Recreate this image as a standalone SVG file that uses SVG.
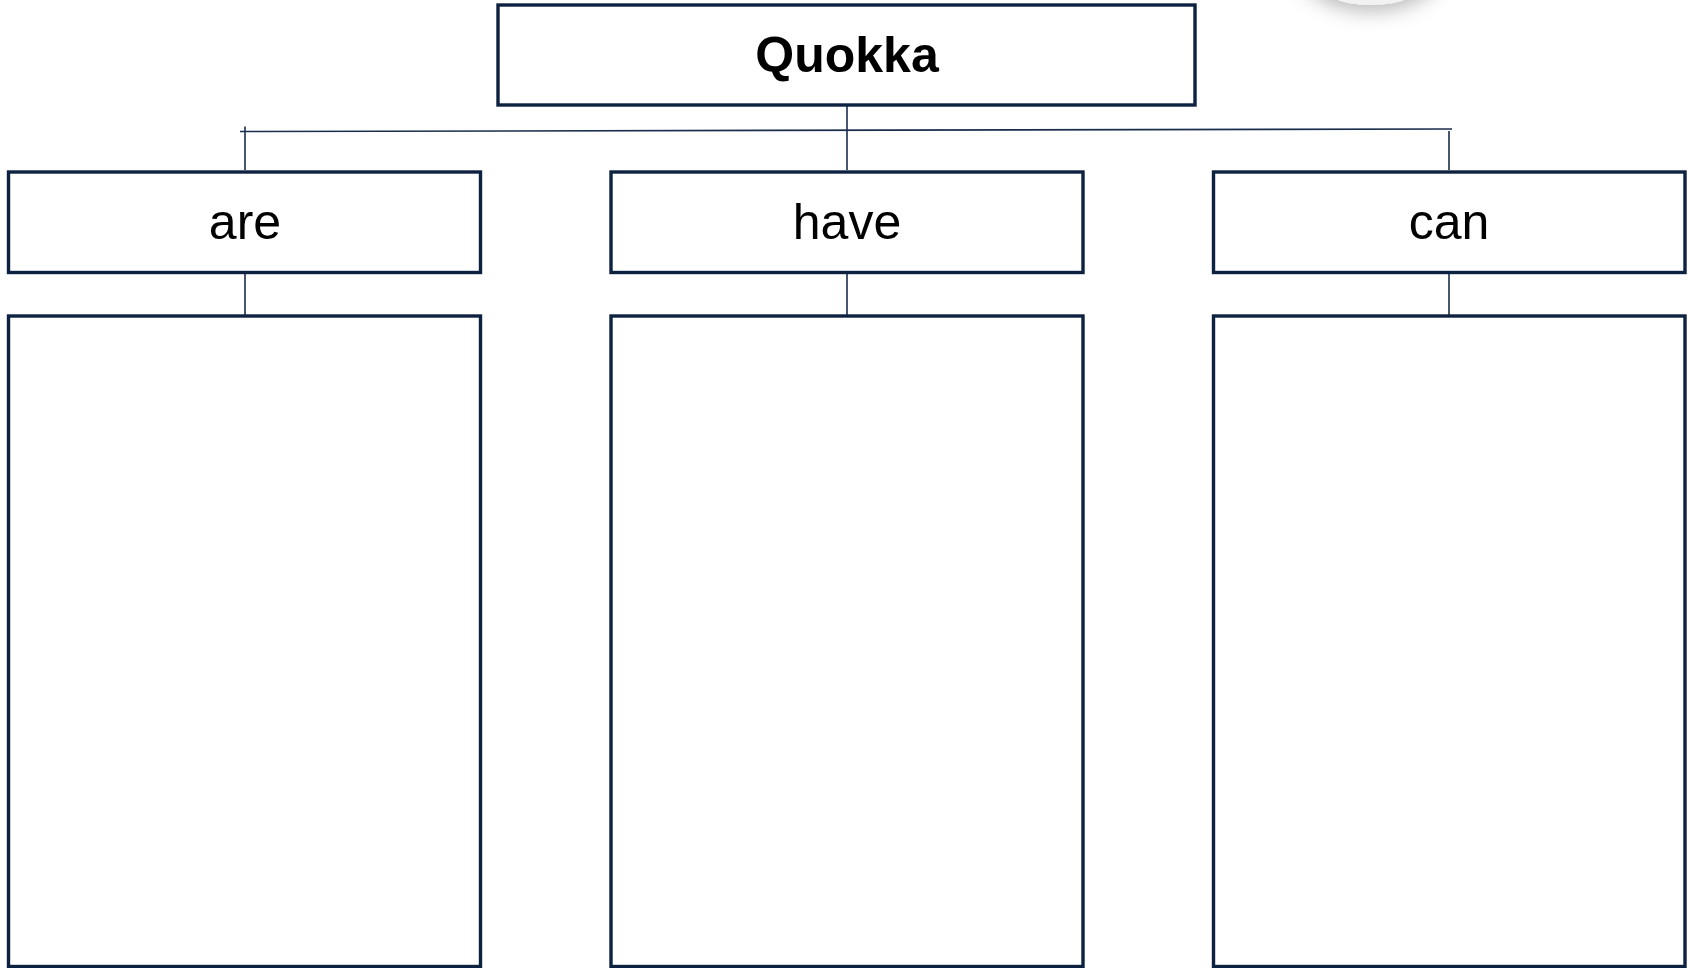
<svg xmlns="http://www.w3.org/2000/svg" width="1690" height="968" viewBox="0 0 1690 968">
  <style>
    .box { fill: #ffffff; stroke: #0d2240; stroke-width: 3.4; }
    .conn { stroke: #1a2d4d; stroke-width: 1.6; fill: none; }
    .title { font-family: "Liberation Sans", Arial, sans-serif; font-weight: bold; font-size: 50px; fill: #000; text-anchor: middle; }
    .label { font-family: "Liberation Sans", Arial, sans-serif; font-size: 50px; fill: #000; text-anchor: middle; }
  </style>
  <defs>
    <filter id="shadow" x="-50%" y="-50%" width="200%" height="200%">
      <feDropShadow dx="0" dy="6" stdDeviation="10" flood-color="#000" flood-opacity="0.28"/>
    </filter>
  </defs>
  <rect x="0" y="0" width="1690" height="968" fill="#ffffff"/>

  <g id="corner-button">
    <ellipse cx="1371" cy="-45" rx="76" ry="50" fill="#f2f2f2" filter="url(#shadow)"/>
  </g>

  <g id="connectors">
    <line class="conn" x1="847" y1="106" x2="847" y2="170"/>
    <line class="conn" x1="240" y1="131.5" x2="1452" y2="129"/>
    <line class="conn" x1="245" y1="126.5" x2="245" y2="170"/>
    <line class="conn" x1="1449" y1="131" x2="1449" y2="170"/>
    <line class="conn" x1="245" y1="274" x2="245" y2="315"/>
    <line class="conn" x1="847" y1="274" x2="847" y2="315"/>
    <line class="conn" x1="1449" y1="274" x2="1449" y2="315"/>
  </g>

  <g id="node-quokka">
    <rect class="box" x="498" y="5" width="697" height="100"/>
    <text class="title" x="847" y="72">Quokka</text>
  </g>

  <g id="node-are">
    <rect class="box" x="8.5" y="172" width="472" height="100.5"/>
    <text class="label" x="245" y="239">are</text>
  </g>
  <g id="node-have">
    <rect class="box" x="611" y="172" width="472" height="100.5"/>
    <text class="label" x="847" y="239">have</text>
  </g>
  <g id="node-can">
    <rect class="box" x="1213.5" y="172" width="471.5" height="100.5"/>
    <text class="label" x="1449" y="239">can</text>
  </g>

  <g id="node-are-box">
    <rect class="box" x="8.5" y="316" width="472" height="650.5"/>
  </g>
  <g id="node-have-box">
    <rect class="box" x="611" y="316" width="472" height="650.5"/>
  </g>
  <g id="node-can-box">
    <rect class="box" x="1213.5" y="316" width="471.5" height="650.5"/>
  </g>
</svg>
